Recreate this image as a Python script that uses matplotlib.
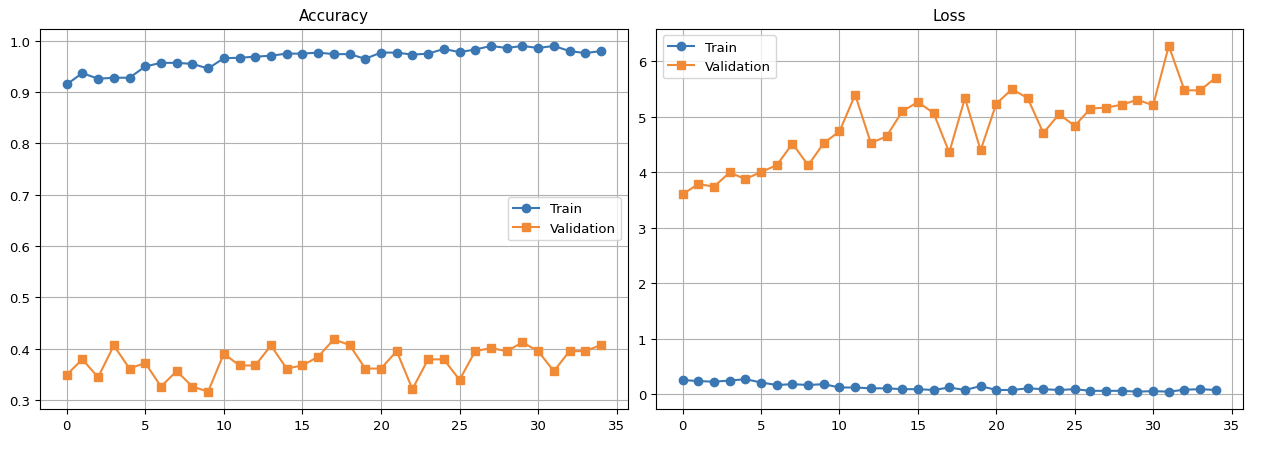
import matplotlib
matplotlib.use("Agg")
import matplotlib.pyplot as plt
import numpy as np

epochs = list(range(35))
train_acc = [0.915, 0.937, 0.926, 0.928, 0.928, 0.950, 0.957, 0.957, 0.955, 0.946,
             0.966, 0.967, 0.969, 0.971, 0.975, 0.975, 0.977, 0.974, 0.974, 0.965,
             0.977, 0.977, 0.973, 0.975, 0.984, 0.978, 0.983, 0.990, 0.986, 0.990,
             0.986, 0.990, 0.980, 0.976, 0.980]
val_acc = [0.349, 0.379, 0.344, 0.406, 0.361, 0.372, 0.326, 0.356, 0.326, 0.316,
           0.390, 0.367, 0.367, 0.406, 0.361, 0.367, 0.384, 0.418, 0.407, 0.361,
           0.361, 0.395, 0.321, 0.379, 0.379, 0.339, 0.395, 0.401, 0.395, 0.412,
           0.395, 0.356, 0.395, 0.395, 0.407]
train_loss = [0.26, 0.24, 0.23, 0.25, 0.275, 0.215, 0.17, 0.185, 0.17, 0.185,
              0.125, 0.125, 0.11, 0.11, 0.095, 0.095, 0.08, 0.125, 0.08, 0.15,
              0.08, 0.08, 0.11, 0.095, 0.08, 0.095, 0.065, 0.065, 0.065, 0.05,
              0.06, 0.05, 0.085, 0.095, 0.08]
val_loss = [3.61, 3.79, 3.745, 4.00, 3.88, 4.01, 4.13, 4.52, 4.13, 4.53,
            4.74, 5.40, 4.53, 4.65, 5.10, 5.27, 5.07, 4.36, 5.34, 4.40,
            5.24, 5.50, 5.34, 4.71, 5.05, 4.84, 5.15, 5.17, 5.22, 5.31,
            5.21, 6.28, 5.48, 5.48, 5.71]

blue = '#3a77b3'
orange = '#f08a36'

fig = plt.figure(figsize=(12.64, 4.56), dpi=100)
ax1 = fig.add_axes([0.0316, 0.101, 0.465, 0.834])
ax2 = fig.add_axes([0.519, 0.101, 0.464, 0.834])

for ax, tr, va, title, loc in [(ax1, train_acc, val_acc, 'Accuracy', 'center right'),
                               (ax2, train_loss, val_loss, 'Loss', 'upper left')]:
    ax.plot(epochs, tr, marker='o', color=blue, label='Train', markersize=6, linewidth=1.5)
    ax.plot(epochs, va, marker='s', color=orange, label='Validation', markersize=6, linewidth=1.5)
    ax.set_title(title, fontsize=11)
    ax.grid(True, color='#b0b0b0', linewidth=0.8)
    ax.legend(loc=loc, fontsize=9.5)
    ax.set_xticks([0, 5, 10, 15, 20, 25, 30, 35])
    ax.tick_params(labelsize=9.5)

fig.savefig('out.png', dpi=100)
